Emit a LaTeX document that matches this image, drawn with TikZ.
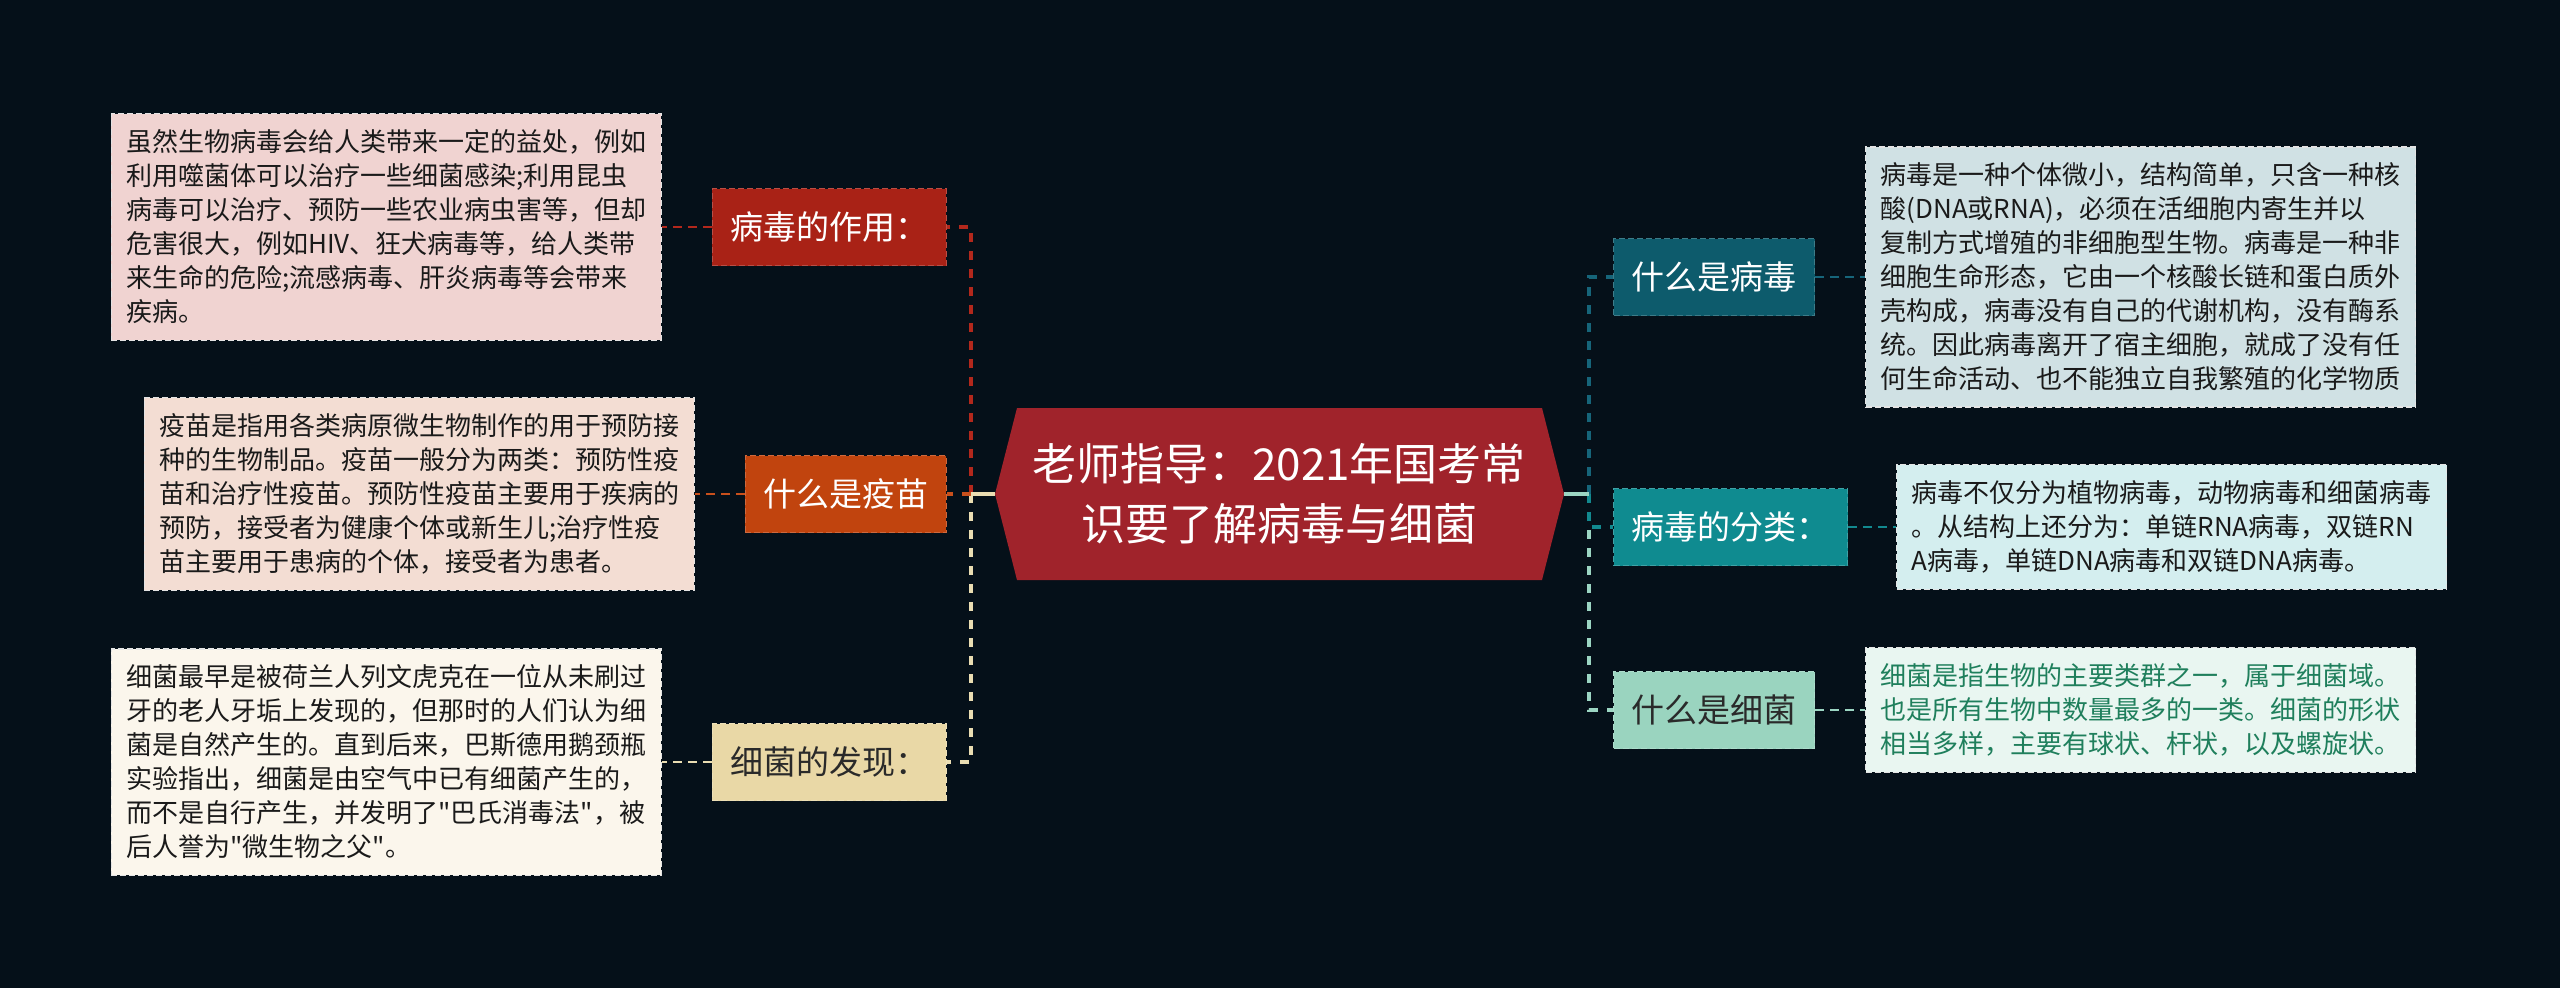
\documentclass[tikz,border=0pt]{standalone}
\usepackage{fontspec}
\newfontfamily\cjk{Noto Sans CJK SC}
\definecolor{bg}{HTML}{051019}
\definecolor{rootred}{HTML}{A0232B}
\definecolor{nA}{HTML}{A92216}
\definecolor{nB}{HTML}{C1440E}
\definecolor{nC}{HTML}{E9D8A6}
\definecolor{nD}{HTML}{0D5B6C}
\definecolor{nE}{HTML}{0F8B90}
\definecolor{nF}{HTML}{9AD4BF}
\definecolor{cA}{HTML}{B3281C}
\definecolor{cB}{HTML}{C9501C}
\definecolor{cC}{HTML}{EADDB2}
\definecolor{cD}{HTML}{16657A}
\definecolor{cE}{HTML}{12898F}
\definecolor{cF}{HTML}{9CD6C3}
\definecolor{fA}{HTML}{F0D3D1}
\definecolor{fB}{HTML}{F3DDD3}
\definecolor{fC}{HTML}{FBF6EC}
\definecolor{fD}{HTML}{D0E1E4}
\definecolor{fE}{HTML}{D4EEEF}
\definecolor{fF}{HTML}{E9F6F1}
\definecolor{descborder}{HTML}{E4E4E4}
\definecolor{desctext}{HTML}{1A1A1A}
\definecolor{greentext}{HTML}{1F7F5C}
\definecolor{darktext}{HTML}{2A2A2A}
\begin{document}
\begin{tikzpicture}[x=1pt,y=-1pt,
  topic/.style={dash pattern=on 6pt off 3pt, line width=1.2pt, minimum height=77pt,
    inner xsep=18pt, inner ysep=0pt, font=\cjk\fontsize{33}{40}\selectfont},
  desc/.style={draw=descborder, dash pattern=on 6pt off 3pt, line width=1.2pt,
    text width=520pt, align=left, inner xsep=15pt, inner ysep=16pt,
    font=\cjk\fontsize{26}{34}\selectfont, text=desctext},
  branch/.style={line width=3.5pt, dash pattern=on 9pt off 9pt},
  leaf/.style={line width=2pt, dash pattern=on 9pt off 6pt},
  stub/.style={line width=3.5pt}]
\useasboundingbox (0,0) rectangle (2560,988);
\fill[bg] (0,0) rectangle (2560,988);

% root
\fill[rootred] (995,494) -- (1017,408) -- (1542,408) -- (1564,494) -- (1542,580) -- (1017,580) -- cycle;
\coordinate (rootL) at (995,494);
\coordinate (rootR) at (1564,494);
\coordinate (L) at (971,494);
\coordinate (R) at (1589,494);
\node[font=\cjk\fontsize{44}{60}\selectfont, text=white, align=center] (root) at (1279,494)
  {老师指导：2021年国考常\\识要了解病毒与细菌};

% left topics
\node[topic, fill=nA, draw=nA!80!white, text=white, anchor=east] (n1) at (947,227) {病毒的作用：};
\node[topic, fill=nB, draw=nB!80!white, text=white, anchor=east] (n2) at (947,494) {什么是疫苗};
\node[topic, fill=nC, draw=nC!80!white, text=darktext, anchor=east] (n3) at (947,762) {细菌的发现：};

% right topics
\node[topic, fill=nD, draw=nD!80!white, text=white, anchor=west] (n4) at (1613,277) {什么是病毒};
\node[topic, fill=nE, draw=nE!80!white, text=white, anchor=west] (n5) at (1613,527) {病毒的分类：};
\node[topic, fill=nF, draw=nF!80!white, text=darktext, anchor=west] (n6) at (1613,710) {什么是细菌};

% descriptions
\node[desc, fill=fA, anchor=east] (dA) at (662,227) {虽然生物病毒会给人类带来一定的益处，例如\\
利用噬菌体可以治疗一些细菌感染;利用昆虫\\
病毒可以治疗、预防一些农业病虫害等，但却\\
危害很大，例如HIV、狂犬病毒等，给人类带\\
来生命的危险;流感病毒、肝炎病毒等会带来\\
疾病。};
\node[desc, fill=fB, anchor=east] (dB) at (695,494) {疫苗是指用各类病原微生物制作的用于预防接\\
种的生物制品。疫苗一般分为两类：预防性疫\\
苗和治疗性疫苗。预防性疫苗主要用于疾病的\\
预防，接受者为健康个体或新生儿;治疗性疫\\
苗主要用于患病的个体，接受者为患者。};
\node[desc, fill=fC, anchor=east] (dC) at (662,762) {细菌最早是被荷兰人列文虎克在一位从未刷过\\
牙的老人牙垢上发现的，但那时的人们认为细\\
菌是自然产生的。直到后来，巴斯德用鹅颈瓶\\
实验指出，细菌是由空气中已有细菌产生的，\\
而不是自行产生，并发明了"巴氏消毒法"，被\\
后人誉为"微生物之父"。};
\node[desc, fill=fD, anchor=west] (dD) at (1865,277) {病毒是一种个体微小，结构简单，只含一种核\\
酸(DNA或RNA)，必须在活细胞内寄生并以\\
复制方式增殖的非细胞型生物。病毒是一种非\\
细胞生命形态，它由一个核酸长链和蛋白质外\\
壳构成，病毒没有自己的代谢机构，没有酶系\\
统。因此病毒离开了宿主细胞，就成了没有任\\
何生命活动、也不能独立自我繁殖的化学物质};
\node[desc, fill=fE, anchor=west] (dE) at (1896,527) {病毒不仅分为植物病毒，动物病毒和细菌病毒\\
。从结构上还分为：单链RNA病毒，双链RN\\
A病毒，单链DNA病毒和双链DNA病毒。};
\node[desc, fill=fF, anchor=west, text=greentext] (dF) at (1865,710) {细菌是指生物的主要类群之一，属于细菌域。\\
也是所有生物中数量最多的一类。细菌的形状\\
相当多样，主要有球状、杆状，以及螺旋状。};

% branch connectors left
\draw[branch, cA] (L) |- (n1.east);
\draw[branch, cC] (L) |- (n3.east);
\draw[branch, cB] (L) -- (n2.east);
\draw[stub, cC] (rootL) -- (L);
% branch connectors right
\draw[branch, cD] (R) |- (n4.west);
\draw[branch, cF] (R) |- (n6.west);
\draw[branch, cE] (R) |- (n5.west);
\draw[stub, cF] (rootR) -- (R);

% leaf connectors
\draw[leaf, cA] (n1.west) -- (dA.east);
\draw[leaf, cB] (n2.west) -- (dB.east);
\draw[leaf, cC] (n3.west) -- (dC.east);
\draw[leaf, cD] (n4.east) -- (dD.west);
\draw[leaf, cE] (n5.east) -- (dE.west);
\draw[leaf, cF] (n6.east) -- (dF.west);
\end{tikzpicture}
\end{document}
